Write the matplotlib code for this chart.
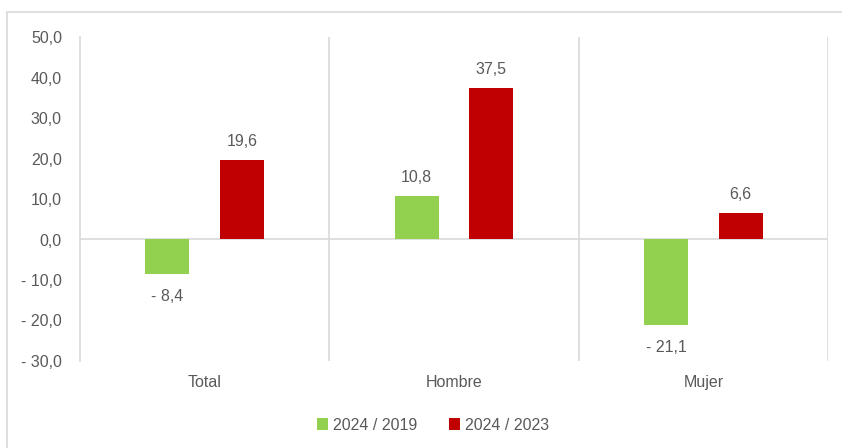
import matplotlib.pyplot as plt
import numpy as np
from matplotlib.patches import Rectangle

categories = ["Total", "Hombre", "Mujer"]
series_names = ["2024 / 2019", "2024 / 2023"]
vs_2019 = [-8.4, 10.8, -21.1]
vs_2023 = [19.6, 37.5, 6.6]
colors = ["#92D050", "#C00000"]

plt.rcParams["font.family"] = ["Liberation Sans Narrow", "Liberation Sans", "DejaVu Sans"]
txt = "#595959"
grid = "#D9D9D9"
fs = 11.5


def fmt(v):
    s = f"{abs(v):.1f}".replace(".", ",")
    return f"- {s}" if v < 0 else s


fig = plt.figure(figsize=(8.42, 4.48), dpi=100)
fig.patches.append(Rectangle((7 / 842, -0.1), 1.2, 1 - 12 / 448 + 0.1, transform=fig.transFigure,
                             fill=False, edgecolor=grid, linewidth=1.2))
ax = fig.add_axes([80 / 842, 1 - 361 / 448, 748 / 842, 324 / 448])

x = np.arange(len(categories))
w = 0.177
off = 0.15
for i, (vals, name) in enumerate(zip([vs_2019, vs_2023], series_names)):
    pos = x + (-off if i == 0 else off)
    ax.bar(pos, vals, width=w, color=colors[i], label=name, zorder=3)
    for p, v in zip(pos, vals):
        ax.annotate(fmt(v), (p, v), xytext=(0, 8 if v > 0 else -11), textcoords="offset points",
                    ha="center", va="bottom" if v > 0 else "top", fontsize=fs, color=txt)

ax.set_xlim(-0.5, 2.5)
ax.set_ylim(-30, 50)
ax.set_yticks(np.arange(-30, 51, 10))
ax.set_yticklabels([fmt(t) for t in np.arange(-30, 51, 10)], fontsize=fs, color=txt)
ax.set_xticks(x)
ax.set_xticklabels(categories, fontsize=fs, color=txt)
ax.tick_params(length=0, pad=10)
ax.tick_params(axis="y", pad=13)

for s in ["top", "right", "bottom"]:
    ax.spines[s].set_visible(False)
ax.spines["left"].set_color(grid)
ax.spines["left"].set_linewidth(1.2)
for b in [0.5, 1.5, 2.5]:
    ax.axvline(b, color=grid, linewidth=1.2, zorder=1)
ax.axhline(0, color=grid, linewidth=1.2, zorder=2)

ax.legend(loc="center", bbox_to_anchor=(433 / 842, 1 - 425 / 448), bbox_transform=fig.transFigure,
          ncol=2, frameon=False, fontsize=fs, labelcolor=txt, handlelength=0.7, handleheight=0.7,
          columnspacing=2, handletextpad=0.3)

fig.savefig("out.png", dpi=100)
